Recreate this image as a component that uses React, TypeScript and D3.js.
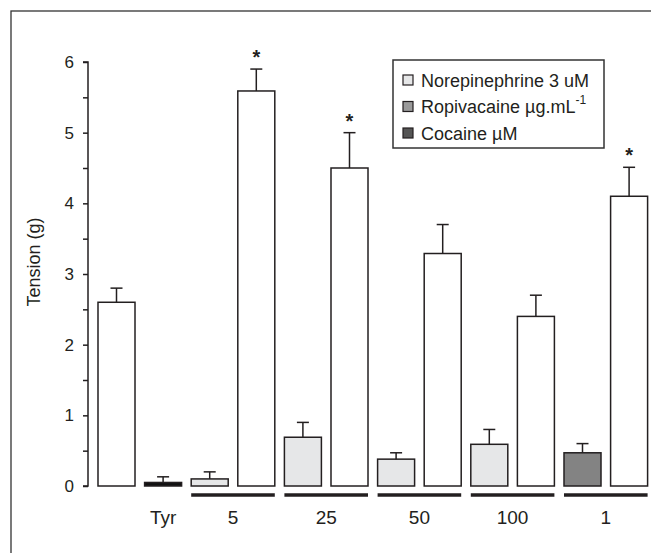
import React, { useEffect, useRef } from 'react';
import * as d3 from 'd3';

// bar slots, left to right
const barIds = ['ctrl', 'tyr', 'ne5', 'c5', 'ne25', 'c25', 'ne50', 'c50', 'ne100', 'c100', 'coc1', 'c1'];
const barKinds = ['control', 'tyr', 'ne', 'control', 'ne', 'control', 'ne', 'control', 'ne', 'control', 'cocaine', 'control'];
const barValues = [2.6, 0.05, 0.1, 5.59, 0.69, 4.5, 0.38, 3.29, 0.59, 2.4, 0.47, 4.1];
const barSem = [0.2, 0.08, 0.1, 0.31, 0.21, 0.5, 0.09, 0.41, 0.21, 0.3, 0.13, 0.41];
const significant = [false, false, false, true, false, true, false, false, false, false, false, true];

// x labels and the bars they sit under
const groupLabels = ['Tyr', '5', '25', '50', '100', '1'];
const groupFirst = ['tyr', 'ne5', 'ne25', 'ne50', 'ne100', 'coc1'];
const groupLast = ['tyr', 'c5', 'c25', 'c50', 'c100', 'c1'];

const legendLabels = ['Norepinephrine 3 uM', 'Ropivacaine µg.mL', 'Cocaine µM'];
const legendColors = ['#e6e7e8', '#9a9a9a', '#555555'];

const yTicks = [0, 0.5, 1, 1.5, 2, 2.5, 3, 3.5, 4, 4.5, 5, 5.5, 6];

const fills: Record<string, string> = {
  control: '#ffffff',
  tyr: '#111111',
  ne: '#e6e7e8',
  cocaine: '#838383',
};

const FONT = '"Liberation Sans", Arial, sans-serif';
const INK = '#231f20';

const App: React.FC = () => {
  const svgRef = useRef<SVGSVGElement>(null);

  useEffect(() => {
    if (!svgRef.current) return;
    const svg = d3.select(svgRef.current);
    svg.selectAll('*').remove();

    const width = 651;
    const height = 553;
    svg.attr('width', width).attr('height', height);

    // outer frame (only top and left visible)
    svg.append('rect')
      .attr('x', 11).attr('y', 11)
      .attr('width', 700).attr('height', 600)
      .attr('fill', 'none')
      .attr('stroke', '#333')
      .attr('stroke-width', 1.3);

    const y = d3.scaleLinear().domain([0, 6]).range([486, 62]);

    const x = d3.scaleBand<string>()
      .domain(barIds)
      .range([93.2, 652.4])
      .paddingInner(0.206)
      .paddingOuter(0.103);

    // y axis
    const yAxis = svg.append('g')
      .attr('transform', 'translate(88,0)')
      .call(d3.axisLeft(y)
        .tickValues(yTicks)
        .tickSize(5)
        .tickPadding(9)
        .tickFormat((d) => (Number(d) % 1 === 0 ? String(d) : '')));
    yAxis.select('.domain')
      .attr('d', `M-5,${y(6)}H0V${y(0)}H-5`)
      .attr('stroke', INK)
      .attr('stroke-width', 1.5);
    yAxis.selectAll('.tick line').attr('stroke', INK).attr('stroke-width', 1.5);
    yAxis.selectAll('.tick text')
      .attr('fill', INK)
      .style('font-family', FONT)
      .style('font-size', '17px');

    svg.append('text')
      .attr('transform', 'translate(40,262) rotate(-90)')
      .attr('text-anchor', 'middle')
      .style('font-family', FONT)
      .style('font-size', '18px')
      .attr('fill', INK)
      .text('Tension (g)');

    const bars = barIds.map((id, i) => ({
      id, kind: barKinds[i], value: barValues[i], sem: barSem[i], sig: significant[i],
    }));

    // bars
    svg.selectAll('rect.bar')
      .data(bars)
      .enter()
      .append('rect')
      .classed('bar', true)
      .attr('x', (d) => x(d.id) || 0)
      .attr('y', (d) => y(d.value))
      .attr('width', x.bandwidth())
      .attr('height', (d) => y(0) - y(d.value))
      .attr('fill', (d) => fills[d.kind])
      .attr('stroke', INK)
      .attr('stroke-width', 1.5);

    // error bars
    const cx = (id: string) => (x(id) || 0) + x.bandwidth() / 2;
    const err = svg.append('g').attr('stroke', INK).attr('stroke-width', 1.5);
    bars.forEach((d) => {
      const top = y(d.value + d.sem);
      err.append('line')
        .attr('x1', cx(d.id)).attr('x2', cx(d.id))
        .attr('y1', y(d.value)).attr('y2', top);
      err.append('line')
        .attr('x1', cx(d.id) - 6).attr('x2', cx(d.id) + 6)
        .attr('y1', top).attr('y2', top);
      if (d.sig) {
        svg.append('text')
          .attr('x', cx(d.id))
          .attr('y', top - 5)
          .attr('text-anchor', 'middle')
          .style('font-family', FONT)
          .style('font-size', '20px')
          .style('font-weight', 'bold')
          .attr('fill', INK)
          .text('*');
      }
    });

    // group underlines and labels
    groupLabels.forEach((label, i) => {
      const x0 = x(groupFirst[i]) || 0;
      const x1 = (x(groupLast[i]) || 0) + x.bandwidth();
      if (groupFirst[i] !== groupLast[i]) {
        svg.append('line')
          .attr('x1', x0).attr('x2', x1)
          .attr('y1', 495).attr('y2', 495)
          .attr('stroke', INK)
          .attr('stroke-width', 3.3);
      }
      svg.append('text')
        .attr('x', (x0 + x1) / 2)
        .attr('y', 524)
        .attr('text-anchor', 'middle')
        .style('font-family', FONT)
        .style('font-size', '19px')
        .attr('fill', INK)
        .text(label);
    });

    // legend
    const lg = svg.append('g');
    lg.append('rect')
      .attr('x', 393).attr('y', 60)
      .attr('width', 211).attr('height', 88)
      .attr('fill', '#fff')
      .attr('stroke', '#333')
      .attr('stroke-width', 1.5);
    legendLabels.forEach((label, i) => {
      const cy = 80 + i * 26.5;
      lg.append('rect')
        .attr('x', 403).attr('y', cy - 5)
        .attr('width', 10).attr('height', 10)
        .attr('fill', legendColors[i])
        .attr('stroke', INK)
        .attr('stroke-width', 1.2);
      const t = lg.append('text')
        .attr('x', 421)
        .attr('y', cy + 6.5)
        .style('font-family', FONT)
        .style('font-size', '18px')
        .attr('fill', INK)
        .text(label);
      if (i === 1) {
        t.append('tspan')
          .attr('dy', -9)
          .style('font-size', '12px')
          .text('-1');
      }
    });
  }, []);

  return (
    <div style={{ position: 'absolute', left: 0, top: 0, background: '#fff' }}>
      <svg ref={svgRef} style={{ display: 'block' }}></svg>
    </div>
  );
};

export default App;
